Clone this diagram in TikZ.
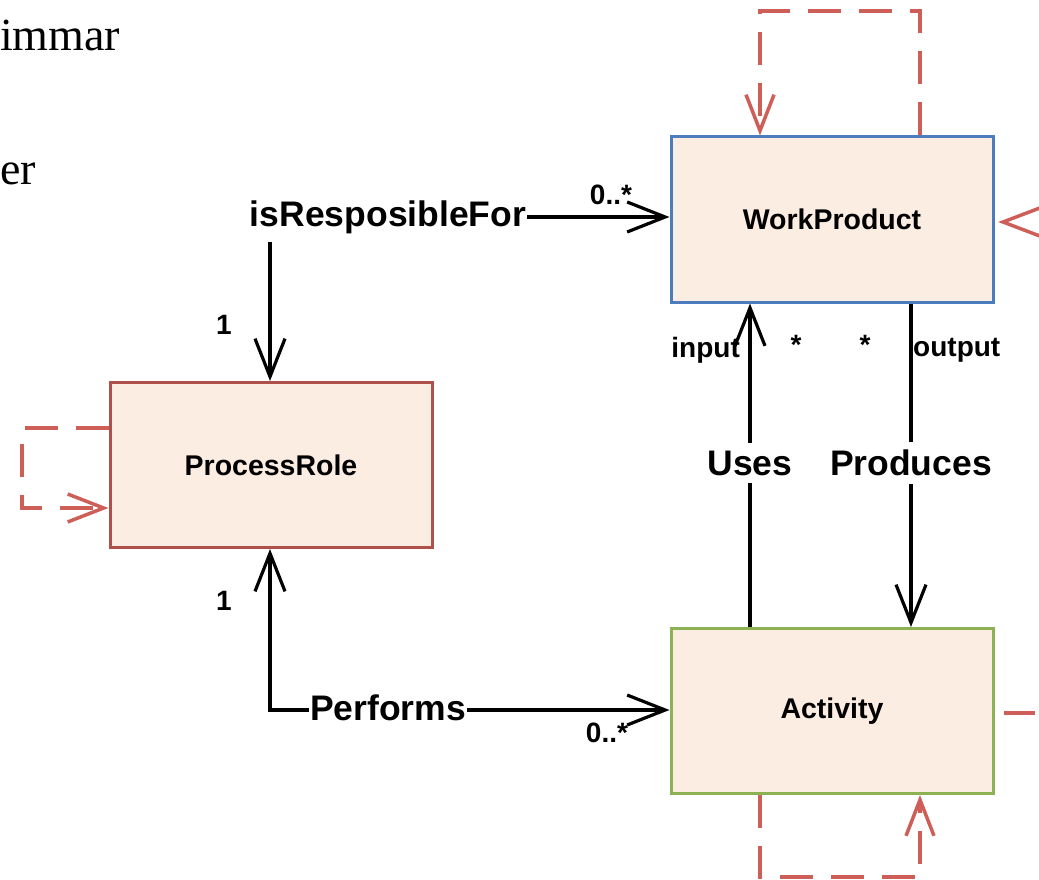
\documentclass[tikz,border=0pt]{standalone}
\usepackage{fontspec}
\setmainfont{Liberation Serif}
\newfontfamily\diafont{Liberation Sans}
\usetikzlibrary{arrows.meta}
\definecolor{boxfill}{HTML}{FCEDE2}
\definecolor{wpblue}{HTML}{4D7CBE}
\definecolor{prred}{HTML}{B0504B}
\definecolor{acgreen}{HTML}{8CB253}
\definecolor{loopred}{HTML}{CE5F58}
\tikzset{
  classbox/.style={draw, line width=3pt, fill=boxfill, minimum width=322pt, minimum height=165pt,
    font=\diafont\bfseries\fontsize{28.5}{33}\selectfont, inner sep=0pt},
  assoc/.style={line width=3.2pt, black},
  bigtxt/.style={font=\diafont\bfseries\fontsize{35.5}{41}\selectfont, inner sep=1pt},
  smalltxt/.style={font=\diafont\bfseries\fontsize{28}{32}\selectfont, inner sep=0pt},
  barb/.tip={Straight Barb[length=38pt,width=30pt]},
  selfloop/.style={line width=3.5pt, loopred, dash pattern=on 33pt off 18pt},
  redbarb/.tip={Straight Barb[length=36pt,width=28pt]},
  pagetxt/.style={font=\fontsize{46}{52}\selectfont, inner sep=0pt, anchor=base west}
}
\begin{document}
\begin{tikzpicture}[x=1pt,y=-1pt]
\useasboundingbox (0,0) rectangle (1039,880);

% surrounding page text
\node[pagetxt] (t1) at (0,51) {immar};
\node[pagetxt] (t2) at (0,185) {er};

% classes
\node[classbox, draw=wpblue] (wp) at (832,219.5) {WorkProduct};
\node[classbox, draw=prred] (pr) at (271,465) {ProcessRole};
\node[classbox, draw=acgreen] (ac) at (832,711) {Activity};

% self associations
\coordinate (wpl1) at (920,11);
\coordinate (wpl2) at (760,11);
\draw[selfloop, -{redbarb}] (wp.north -| wpl1) -- (wpl1) -- (wpl2) -- (wp.north -| wpl2);

\coordinate (acl1) at (760,877);
\coordinate (acl2) at (920,877);
\draw[selfloop, -{redbarb}] (ac.south -| acl1) -- (acl1) -- (acl2) -- (ac.south -| acl2);

\coordinate (prl1) at (22,428);
\coordinate (prl2) at (22,508);
\draw[selfloop, -{redbarb}] (pr.west |- prl1) -- (prl1) -- (prl2) -- (pr.west |- prl2);

% incoming tip at the right of WorkProduct
\coordinate (rt) at (1003,222);
\coordinate (ra) at (1045,206);
\coordinate (rb) at (1045,238);
\draw[line width=3.5pt, loopred, line join=miter] (ra) -- (rt) -- (rb);

% outgoing line at the right of Activity
\coordinate (rs) at (1004,713);
\coordinate (re) at (1035,713);
\draw[line width=3.5pt, loopred] (rs) -- (re);

% isResposibleFor
\node[bigtxt] (resp) at (388,217) {isResposibleFor};
\draw[assoc, -{barb}] (resp.east) -- (resp.east -| wp.west);
\coordinate (rv) at (270,242);
\draw[assoc, -{barb}] (rv) -- (rv |- pr.north);
\node[smalltxt] (m1) at (611,195) {0..*};
\node[smalltxt] (m2) at (224,325) {1};

% Performs
\coordinate (pc) at (270,710);
\draw[assoc, {barb}-{barb}] (pr.south -| pc) -- (pc) -- (ac.west |- pc);
\node[bigtxt, fill=white] (perf) at (388,708) {Performs};
\node[smalltxt] (m3) at (224,601) {1};
\node[smalltxt] (m4) at (607,733) {0..*};

% Uses
\coordinate (ux) at (750,0);
\draw[assoc, -{barb}] (ac.north -| ux) -- (wp.south -| ux);
\node[bigtxt, fill=white, inner ysep=8pt] (uses) at (750,463) {Uses};
\node[smalltxt, anchor=east] (inp) at (740,350) {input};
\node[smalltxt] (s1) at (796,345) {*};

% Produces
\coordinate (px) at (911,0);
\draw[assoc, -{barb}] (wp.south -| px) -- (ac.north -| px);
\node[bigtxt, fill=white, inner ysep=8pt] (prod) at (911,463) {Produces};
\node[smalltxt] (s2) at (865,345) {*};
\node[smalltxt, anchor=west] (outp) at (913,350) {output};
\end{tikzpicture}
\end{document}
